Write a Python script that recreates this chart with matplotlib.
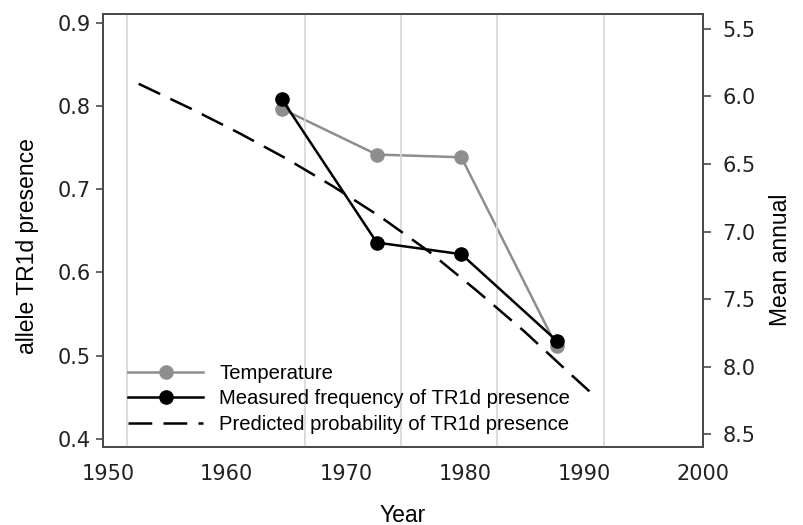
import matplotlib
matplotlib.use("Agg")
import matplotlib.pyplot as plt

# Data
sample_years = [1964.6, 1972.6, 1979.7, 1987.7]
measured_freq = [0.809, 0.636, 0.622, 0.518]
temperature = [6.09, 6.43, 6.45, 7.85]
pred_years = [1952.6, 1957, 1961, 1965, 1969, 1973, 1977, 1981, 1985, 1989, 1991]
pred_prob = [0.827, 0.797, 0.768, 0.737, 0.703, 0.666, 0.625, 0.578, 0.529, 0.476, 0.450]
grid_years = [1951.6, 1966.6, 1974.6, 1982.7, 1991.7]
x_ticks = [1950, 1960, 1970, 1980, 1990, 2000]
left_ticks = [0.4, 0.5, 0.6, 0.7, 0.8, 0.9]
right_ticks = [5.5, 6.0, 6.5, 7.0, 7.5, 8.0, 8.5]

LAB = "Liberation Sans"
TICK = "DejaVu Sans"
frame = "#4a4a4a"
gray = "#8e8e8e"

fig = plt.figure(figsize=(8.04, 5.25), dpi=100)
ax = fig.add_axes([103/804, 1-447/525, 600/804, 433/525])
ax2 = ax.twinx()

for g in grid_years:
    ax.axvline(g, color="#d6d6d6", lw=1.2, zorder=0)

ax.plot(pred_years, pred_prob, color="black", lw=1.8, dashes=(9.5, 4.5),
        label="Predicted probability of TR1d presence", zorder=3)
ax.plot(sample_years, measured_freq, color="black", lw=1.8, marker="o", ms=9.5,
        label="Measured frequency of TR1d presence", zorder=4)
ax2.plot(sample_years, temperature, color=gray, lw=1.8, marker="o", ms=9.5,
         label="Temperature", zorder=2)

ax.set_xlim(1949.6, 1999.7)
ax.set_ylim(0.39, 0.911)
ax2.set_ylim(8.596, 5.389)

ax.set_xticks(x_ticks)
ax.set_yticks(left_ticks)
ax2.set_yticks(right_ticks)
ax.set_xticklabels([str(v) for v in x_ticks], fontfamily=TICK, fontsize=15, color="#222222")
ax.set_yticklabels([f"{v:.1f}" for v in left_ticks], fontfamily=TICK, fontsize=15, color="#222222")
ax2.set_yticklabels([f"{v:.1f}" for v in right_ticks], fontfamily=TICK, fontsize=15, color="#222222")

ax.tick_params(axis="x", length=0, pad=12)
ax.tick_params(axis="y", length=5, width=1.2, color=frame, pad=4, direction="out")
ax2.tick_params(axis="y", length=6, width=1.2, color=frame, pad=8, direction="out")

for a in (ax, ax2):
    for s in a.spines.values():
        s.set_color(frame)
        s.set_linewidth(1.3)

ax.set_zorder(ax2.get_zorder() + 1)
ax.patch.set_visible(False)

fig.text(403/804, 1-515/525, "Year", fontfamily=LAB, fontsize=16.5, ha="center", va="center")
fig.text(28/804, 1-246/525, "allele TR1d presence", fontfamily=LAB, fontsize=16.5,
         ha="center", va="center", rotation=90)
fig.text(781/804, 1-260/525, "Mean annual", fontfamily=LAB, fontsize=16.5,
         ha="center", va="center", rotation=90)

h1, l1 = ax2.get_legend_handles_labels()
h2, l2 = ax.get_legend_handles_labels()
handles = [h1[0], h2[1], h2[0]]
labels = [l1[0], l2[1], l2[0]]
leg = ax.legend(handles, labels, loc="lower left", bbox_to_anchor=(0.042, 0.03),
                frameon=False, prop={"family": LAB, "size": 14.6}, handlelength=3.7,
                handletextpad=0.8, labelspacing=0.33, borderpad=0, borderaxespad=0)

fig.savefig("out.png", dpi=100)
